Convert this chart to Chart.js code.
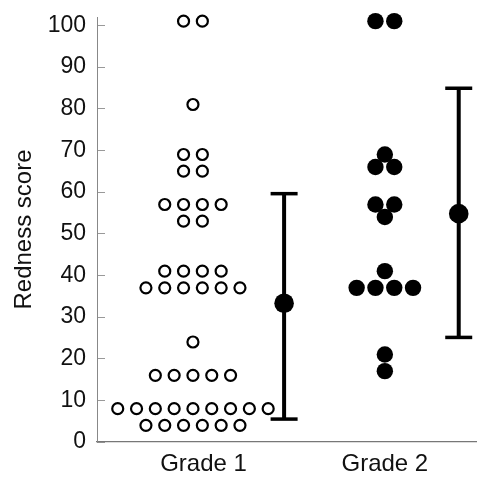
<!DOCTYPE html>
<html>
<head>
<meta charset="utf-8">
<script src="https://cdn.jsdelivr.net/npm/chart.js@4/dist/chart.umd.min.js"></script>
<style>
  html, body { margin: 0; padding: 0; background: #fff; }
  #wrap { width: 493px; height: 480px; }
</style>
</head>
<body>
<div id="wrap"><canvas id="redness-chart"></canvas></div>
<script>
// data
const grades = ['Grade 1', 'Grade 2'];
const grade1Scores = [101, 101, 81, 69, 69, 65, 65, 57, 57, 57, 57, 53, 53,
    41, 41, 41, 41, 37, 37, 37, 37, 37, 37, 24, 16, 16, 16, 16, 16,
    8, 8, 8, 8, 8, 8, 8, 8, 8, 4, 4, 4, 4, 4, 4];
const grade2Scores = [101, 101, 69, 66, 66, 57, 57, 54, 41, 37, 37, 37, 37, 21, 17];
const meanScores = [33.3, 54.8];
const upperScores = [59.6, 84.9];
const lowerScores = [5.5, 25.1];
const yTicks = [0, 10, 20, 30, 40, 50, 60, 70, 80, 90, 100];

// layout on the x axis (group centre, dot spacing, where the mean bar sits)
const groupX = [1, 2];
const dotStep = 0.098;
const meanShift = [0.475, 0.385];
const labelShift = [0.055, 0];

function swarm(scores, centre) {
    let counts = {};
    scores.forEach(s => counts[s] = (counts[s] || 0) + 1);
    let seen = {};
    return scores.map(s => {
        let k = seen[s] || 0;
        seen[s] = k + 1;
        return { x: centre + (k - (counts[s] - 1) / 2) * dotStep, y: s };
    });
}

function errorBar(i) {
    return {
        data: [
            { x: groupX[i] + meanShift[i], y: lowerScores[i] },
            { x: groupX[i] + meanShift[i], y: upperScores[i] }
        ],
        showLine: true,
        borderColor: '#000',
        borderWidth: 4,
        pointStyle: 'line',
        pointRadius: 13.5,
        pointBorderWidth: 3.5,
        pointBorderColor: '#000',
        clip: false
    };
}

// labels padding would otherwise push the plot area down
function noScalePadding(axis) {
    axis.paddingTop = 0;
    axis.paddingBottom = 0;
}

function drawChart() {
    let ctx = document.getElementById('redness-chart');

    let data = {
        datasets: [
            {
                data: swarm(grade1Scores, groupX[0]),
                pointRadius: 5.5,
                pointBorderWidth: 2.2,
                pointBorderColor: '#000',
                pointBackgroundColor: '#fff',
                clip: false
            },
            {
                data: swarm(grade2Scores, groupX[1]),
                pointRadius: 8.2,
                pointBorderWidth: 0,
                pointBackgroundColor: '#000',
                clip: false
            },
            {
                data: meanScores.map((m, i) => ({ x: groupX[i] + meanShift[i], y: m })),
                pointRadius: 9.8,
                pointBorderWidth: 0,
                pointBackgroundColor: '#000',
                clip: false
            },
            errorBar(0),
            errorBar(1)
        ]
    };

    new Chart(ctx, {
        type: 'scatter',
        data: data,
        options: {
            responsive: true,
            maintainAspectRatio: false,
            animation: false,
            events: [],
            layout: { padding: { top: 16, right: 3, left: 0, bottom: 0 } },
            plugins: {
                legend: { display: false },
                tooltip: { enabled: false }
            },
            scales: {
                x: {
                    type: 'linear',
                    min: 0.5,
                    max: 2.475,
                    afterBuildTicks: axis => {
                        axis.ticks = groupX.map((g, i) => ({ value: g + labelShift[i] }));
                    },
                    afterFit: axis => { axis.height = 38; noScalePadding(axis); },
                    grid: { drawOnChartArea: false, drawTicks: false },
                    border: { color: '#777', width: 1.2, dash: [34, 12] },
                    ticks: {
                        padding: 8,
                        color: '#111',
                        font: { family: 'Liberation Sans', size: 24 },
                        maxRotation: 0,
                        callback: (v, i) => grades[i]
                    }
                },
                y: {
                    min: 0,
                    max: 102,
                    afterBuildTicks: axis => {
                        axis.ticks = yTicks.map(v => ({ value: v }));
                    },
                    afterFit: axis => { axis.width = 97; noScalePadding(axis); },
                    grid: {
                        drawOnChartArea: false,
                        drawTicks: true,
                        tickLength: -8,
                        color: '#999',
                        lineWidth: 1
                    },
                    border: { color: '#888', width: 1, dash: [40, 3, 12, 3] },
                    ticks: {
                        padding: 19,
                        color: '#111',
                        font: { family: 'Liberation Sans', size: 23 }
                    },
                    title: {
                        display: true,
                        text: 'Redness score',
                        color: '#111',
                        padding: { top: 10, bottom: 0 },
                        font: { family: 'Liberation Sans', size: 24 }
                    }
                }
            }
        }
    });
}

drawChart();
</script>
</body>
</html>
